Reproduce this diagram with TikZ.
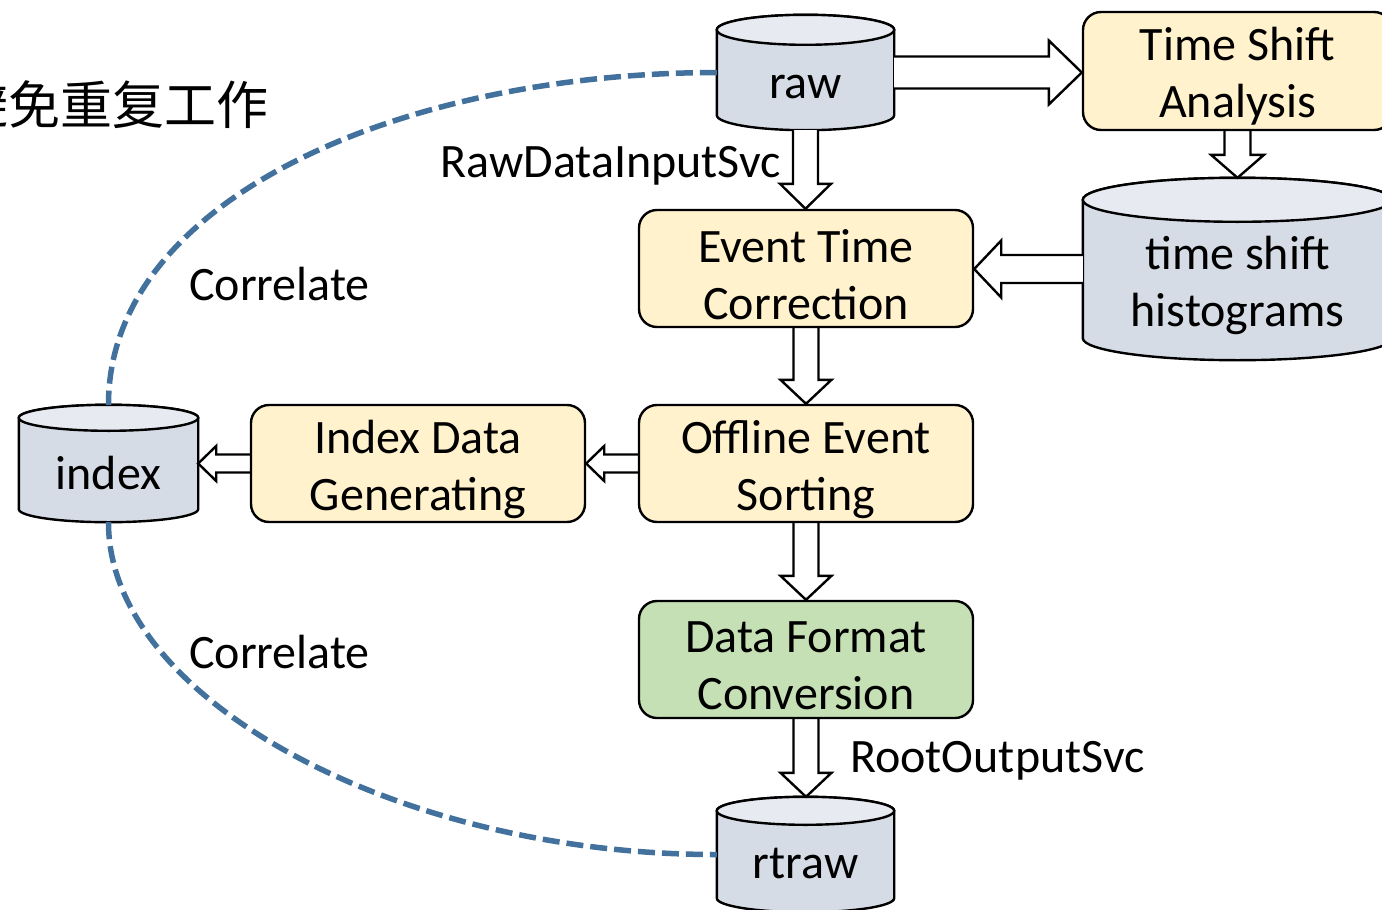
\documentclass[tikz,border=0pt]{standalone}
\usepackage{fontspec}
\setmainfont{Carlito}
\newfontfamily\cjk{Noto Sans CJK SC}
\usetikzlibrary{calc,backgrounds}
\definecolor{boxyellow}{HTML}{FFF2CC}
\definecolor{boxgreen}{HTML}{C5E0B4}
\definecolor{dbbody}{HTML}{D6DCE5}
\definecolor{dbtop}{HTML}{E7EAF0}
\definecolor{linkblue}{HTML}{41719C}
\newcommand\bigf{\fontsize{48}{57}\selectfont}
\tikzset{
  proc/.style={draw=black, line width=2.4pt, rounded corners=18pt, fill=boxyellow,
    minimum width=334pt, minimum height=117pt, inner sep=0pt},
  cylbox/.style={inner sep=0pt},
  dbline/.style={draw=black, line width=2.4pt},
  boxtext/.style={inner sep=0pt, font=\bigf, align=center},
  lbl/.style={inner sep=0pt, font=\bigf},
  blockarrow/.style={draw=black, line width=2.4pt, fill=white, line join=miter},
  dashlink/.style={draw=linkblue, line width=5.5pt, dash pattern=on 17pt off 7pt}
}
% cylinder outline around a named node: #1 node, #2 half height of the ellipse (number, pt)
\newcommand\cyl[2]{%
  \filldraw[dbline, fill=dbbody] let \p1=(#1.north west), \p2=(#1.south east), \n1={(\x2-\x1)/2} in
    (\x1,\y1-#2pt) -- (\x1,\y2+#2pt)
    arc[start angle=180, end angle=360, x radius={\n1*1pt}, y radius=#2pt]
    -- (\x2,\y1-#2pt)
    arc[start angle=0, end angle=180, x radius={\n1*1pt}, y radius=#2pt] -- cycle;
  \filldraw[dbline, fill=dbtop] let \p1=(#1.north west), \p2=(#1.south east), \n1={(\x2-\x1)/2} in
    (\x1+\n1*1pt,\y1-#2pt) ellipse[x radius={\n1*1pt}, y radius=#2pt];
}
% downward block arrow: #1 from, #2 to, #3 half shaft, #4 half head, #5 head length (pt numbers)
\newcommand\vblock[5]{%
  \filldraw[blockarrow] let \p1=(#1), \p2=(#2) in
    (\x1-#3pt,\y1) -- (\x1-#3pt,\y2+#5pt) -- (\x1-#4pt,\y2+#5pt) -- (\x1,\y2)
    -- (\x1+#4pt,\y2+#5pt) -- (\x1+#3pt,\y2+#5pt) -- (\x1+#3pt,\y1);
}
% rightward block arrow
\newcommand\rblock[5]{%
  \filldraw[blockarrow] let \p1=(#1), \p2=(#2) in
    (\x1,\y1+#3pt) -- (\x2-#5pt,\y1+#3pt) -- (\x2-#5pt,\y1+#4pt) -- (\x2,\y1)
    -- (\x2-#5pt,\y1-#4pt) -- (\x2-#5pt,\y1-#3pt) -- (\x1,\y1-#3pt);
}
% leftward block arrow
\newcommand\lblock[5]{%
  \filldraw[blockarrow] let \p1=(#1), \p2=(#2) in
    (\x1,\y1+#3pt) -- (\x2+#5pt,\y1+#3pt) -- (\x2+#5pt,\y1+#4pt) -- (\x2,\y1)
    -- (\x2+#5pt,\y1-#4pt) -- (\x2+#5pt,\y1-#3pt) -- (\x1,\y1-#3pt);
}
\begin{document}
\begin{tikzpicture}[x=1pt,y=-1pt]
\useasboundingbox (0,0) rectangle (1382,910);

% Chinese title (cut at the left edge, as in the reference)
\node[inner sep=0pt, font=\cjk\fontsize{52}{60}\selectfont] (zh) at (113,105) {避免重复工作};

% process boxes
\node[proc, minimum width=309pt, minimum height=118pt] (tsa) at (1237.5,71) {};
\node[proc] (etc) at (806,268.5) {};
\node[proc] (oes) at (806,463.5) {};
\node[proc] (idg) at (418,463.5) {};
\node[proc, fill=boxgreen] (dfc) at (806,659.5) {};

% database outlines
\node[cylbox, minimum width=177pt, minimum height=115pt] (raw) at (805.5,72.5) {};
\node[cylbox, minimum width=309pt, minimum height=182pt] (hist) at (1237.5,269) {};
\node[cylbox, minimum width=179pt, minimum height=117pt] (index) at (108.5,463.5) {};
\node[cylbox, minimum width=177pt, minimum height=115pt] (rtraw) at (805.5,854.5) {};

\begin{scope}[on background layer]
  \cyl{raw}{15}
  \cyl{hist}{22}
  \cyl{index}{13}
  \cyl{rtraw}{14}
  % block arrows
  \rblock{raw.east}{raw.east -| tsa.west}{16}{32}{33}
  \vblock{tsa.south}{hist.north}{13}{26.5}{23}
  \lblock{hist.west}{hist.west -| etc.east}{14}{28.5}{27}
  \vblock{raw.south}{etc.north}{12.5}{25.5}{25}
  \vblock{etc.south}{oes.north}{12.5}{25.5}{24}
  \vblock{oes.south}{dfc.north}{12.5}{25.5}{24}
  \vblock{dfc.south}{rtraw.north}{12.5}{25.5}{24}
  \lblock{oes.west}{oes.west -| idg.east}{9}{17.5}{18}
  \lblock{idg.west}{idg.west -| index.east}{9}{17.5}{18}
  % correlation links
  \draw[dashlink] (raw.west) .. controls (400,73) and (108,200) .. (index.north);
  \draw[dashlink] (index.south) .. controls (108,700) and (400,855) .. (rtraw.west);
\end{scope}

% box texts
\node[boxtext] (tsat) at ($(tsa.center)+(0,5)$) {Time Shift\\Analysis};
\node[boxtext] (etct) at ($(etc.center)+(0,6)$) {Event Time\\Correction};
\node[boxtext] (oest) at ($(oes.center)+(0,6)$) {Offline Event\\Sorting};
\node[boxtext] (idgt) at ($(idg.center)+(0,6)$) {Index Data\\Generating};
\node[boxtext] (dfct) at ($(dfc.center)+(0,6)$) {Data Format\\Conversion};

% database texts
\node[boxtext] (rawt) at ($(raw.center)+(0,15)$) {raw};
\node[boxtext] (histt) at ($(hist.center)+(0,16)$) {time shift\\histograms};
\node[boxtext] (indext) at ($(index.center)+(0,9)$) {index};
\node[boxtext] (rtrawt) at ($(rtraw.center)+(0,9)$) {rtraw};

% labels
\node[lbl, anchor=east] (rdis) at (781,166) {RawDataInputSvc};
\node[lbl, anchor=west] (ros) at (850,761) {RootOutputSvc};
\node[lbl, anchor=west] (cor1) at (189,284) {Correlate};
\node[lbl, anchor=west] (cor2) at (189,652) {Correlate};
\end{tikzpicture}
\end{document}
